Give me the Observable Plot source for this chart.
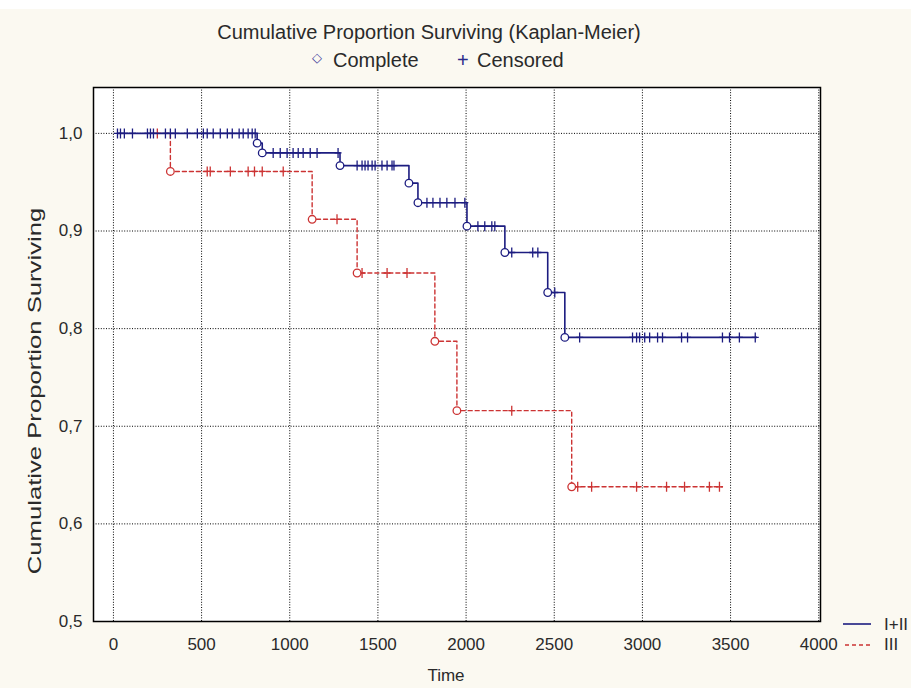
<!DOCTYPE html>
<html>
<head>
<meta charset="utf-8">
<script src="https://cdn.jsdelivr.net/npm/d3@7"></script>
<script src="https://cdn.jsdelivr.net/npm/@observablehq/plot@0.6"></script>
<style>
  html, body { margin: 0; padding: 0; }
  body { width: 911px; height: 688px; overflow: hidden; background: #fbf9f1; position: relative;
         font-family: "Liberation Sans", Arial, sans-serif; color: #2a2a2a; }
  #topband { position: absolute; left: 0; top: 0; width: 911px; height: 9px; background: #ffffff; }
  #chart { position: absolute; left: 0; top: 0; }
  .t { position: absolute; white-space: nowrap; line-height: 1.15; }
</style>
</head>
<body>
<div id="topband"></div>
<div id="chart"></div>
<div class="t" id="title" style="left:429px; top:21px; font-size:20px; transform:translateX(-50%);">Cumulative Proportion Surviving (Kaplan-Meier)</div>
<div class="t" style="left:312px; top:51px; font-size:13px; color:#3a3a9a;">&#9671;</div>
<div class="t" style="left:333px; top:49px; font-size:20px;">Complete</div>
<div class="t" style="left:457px; top:49px; font-size:20px; color:#2a2a8a;">+</div>
<div class="t" style="left:477px; top:49px; font-size:20px;">Censored</div>
<div class="t" id="ylab" style="left:35px; top:391px; font-size:19px; transform:translate(-50%,-50%) rotate(-90deg) scaleX(1.35);">Cumulative Proportion Surviving</div>
<div class="t" id="xlab" style="left:446px; top:666px; font-size:17px; transform:translateX(-50%);">Time</div>
<svg width="911" height="688" style="position:absolute;left:0;top:0;pointer-events:none">
  <line x1="843" x2="871" y1="624" y2="624" stroke="#1c1c80" stroke-width="1.6"></line>
  <line x1="845" x2="871" y1="645" y2="645" stroke="#cc3333" stroke-width="1.4" stroke-dasharray="4,3"></line>
</svg>
<div class="t" style="left:884px; top:615px; font-size:17px;">I+II</div>
<div class="t" style="left:884px; top:635px; font-size:17px;">III</div>
<script>
// ---- data ----
const xTicks = [0, 500, 1000, 1500, 2000, 2500, 3000, 3500, 4000];
const yTicks = [0.5, 0.6, 0.7, 0.8, 0.9, 1.0];

// Group I+II
const g12Start = 23;
const g12End = 3647;
const g12EventTimes = [815, 844, 1285, 1676, 1727, 2005, 2220, 2463, 2560];
const g12EventSurv  = [0.990, 0.980, 0.967, 0.949, 0.929, 0.905, 0.878, 0.837, 0.791];
const g12CensorTimes = [23, 40, 62, 108, 193, 210, 227, 295, 323, 351, 419, 476, 510, 532, 566, 606, 646, 674, 713, 736, 764, 787, 804,
  906, 946, 985, 1019, 1048, 1076, 1116, 1155, 1274,
  1382, 1410, 1427, 1444, 1467, 1484, 1523, 1552, 1580, 1591,
  1778, 1812, 1852, 1891, 1937, 1993,
  2067, 2106, 2146, 2163,
  2259, 2378, 2407,
  2503,
  2644, 2944, 2967, 2984, 3013, 3041, 3086, 3114, 3222, 3256, 3454, 3494, 3550, 3640];

// Group III
const g3Start = 210;
const g3End = 3454;
const g3EventTimes = [323, 1127, 1382, 1823, 1948, 2599];
const g3EventSurv  = [0.961, 0.912, 0.857, 0.787, 0.716, 0.638];
const g3CensorTimes = [249, 532, 549, 663, 764, 800, 844, 963, 1268, 1410, 1552, 1665, 2259,
  2633, 2712, 2967, 3137, 3239, 3380, 3437];

// ---- helpers ----
function survAt(times, surv, t) {
  let s = 1;
  for (let i = 0; i < times.length; i++) if (times[i] <= t) s = surv[i];
  return s;
}
function stepPath(start, end, times, surv) {
  const pts = [{t: start, s: 1}];
  times.forEach((t, i) => pts.push({t, s: surv[i]}));
  pts.push({t: end, s: surv[surv.length - 1]});
  return pts;
}
const g12Line = stepPath(g12Start, g12End, g12EventTimes, g12EventSurv);
const g3Line = stepPath(g3Start, g3End, g3EventTimes, g3EventSurv);
const g12Events = g12EventTimes.map((t, i) => ({t, s: g12EventSurv[i]}));
const g3Events = g3EventTimes.map((t, i) => ({t, s: g3EventSurv[i]}));
const g12Cens = g12CensorTimes.map(t => ({t, s: survAt(g12EventTimes, g12EventSurv, t)}));
const g3Cens = g3CensorTimes.map(t => ({t, s: survAt(g3EventTimes, g3EventSurv, t)}));

const censorSymbol = {
  draw(context, size) {
    const r = Math.sqrt(size / Math.PI);
    context.moveTo(0, -r); context.lineTo(0, r);
    context.moveTo(-r * 0.7, 0); context.lineTo(r * 0.7, 0);
  }
};

const blue = "#1c1c80", red = "#cc3333";

const chart = Plot.plot({
  width: 911, height: 688,
  marginLeft: 93, marginRight: 91, marginTop: 87, marginBottom: 67,
  style: {background: "transparent", fontFamily: "Liberation Sans, Arial, sans-serif", fontSize: "17px", color: "#2a2a2a"},
  x: {domain: [-113, 4010]},
  y: {domain: [0.5, 1.047]},
  marks: [
    Plot.frame({fill: "white", stroke: "none"}),
    Plot.gridX(xTicks, {stroke: "#000", strokeOpacity: 1, strokeDasharray: "1,1.6"}),
    Plot.gridY(yTicks, {stroke: "#000", strokeOpacity: 1, strokeDasharray: "1,1.6"}),
    Plot.axisX(xTicks, {tickSize: 0, tickPadding: 16, label: null, tickFormat: d => String(d), fontSize: 17}),
    Plot.axisY(yTicks, {tickSize: 0, tickPadding: 11, label: null, tickFormat: d => d.toFixed(1).replace(".", ","), fontSize: 17}),
    // group III
    Plot.line(g3Line, {x: "t", y: "s", curve: "step-after", stroke: red, strokeWidth: 1.4, strokeDasharray: "4,3"}),
    Plot.dot(g3Cens, {x: "t", y: "s", symbol: censorSymbol, r: 5, stroke: red, fill: "none", strokeWidth: 1.3}),
    Plot.dot(g3Events, {x: "t", y: "s", symbol: "circle", r: 3.8, stroke: red, fill: "white", strokeWidth: 1.3}),
    // group I+II
    Plot.line(g12Line, {x: "t", y: "s", curve: "step-after", stroke: blue, strokeWidth: 1.6}),
    Plot.dot(g12Cens, {x: "t", y: "s", symbol: censorSymbol, r: 5, stroke: blue, fill: "none", strokeWidth: 1.3}),
    Plot.dot(g12Events, {x: "t", y: "s", symbol: "circle", r: 3.8, stroke: blue, fill: "white", strokeWidth: 1.3}),
    Plot.frame({stroke: "#000", strokeWidth: 1.5})
  ]
});
document.getElementById("chart").appendChild(chart);
</script>
</body>
</html>
